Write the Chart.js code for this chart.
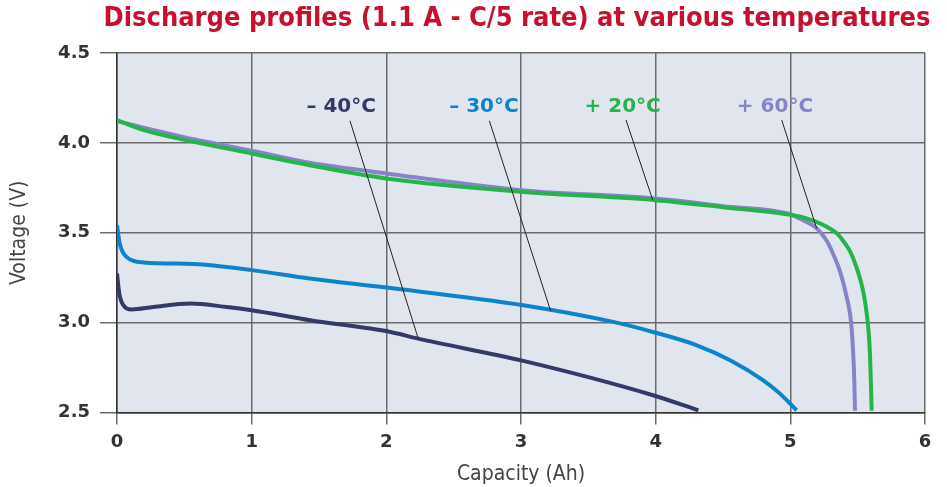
<!DOCTYPE html>
<html>
<head>
<meta charset="utf-8">
<script src="https://cdn.jsdelivr.net/npm/chart.js@4.4.1/dist/chart.umd.min.js"></script>
<style>
  html, body { margin: 0; padding: 0; background: #fff; }
  #wrap { width: 947px; height: 487px; }
</style>
</head>
<body>
<div id="wrap"><canvas id="chart" width="947" height="487"></canvas></div>
<script>
const title = "Discharge profiles (1.1 A - C/5 rate) at various temperatures"
const xTicks = [0, 1, 2, 3, 4, 5, 6]
const yTicks = [2.5, 3.0, 3.5, 4.0, 4.5]

// +20°C
const cap20 = [0, 0.2, 0.57, 1.0, 1.43, 2.0, 3.0, 4.0, 4.5, 5.0, 5.12, 5.27, 5.37, 5.49, 5.567, 5.591, 5.604]
const volt20 = [4.127, 4.071, 4.006, 3.941, 3.876, 3.802, 3.728, 3.681, 3.642, 3.6, 3.58, 3.533, 3.477, 3.31, 3.052, 2.83, 2.51]
// +60°C
const cap60 = [0, 0.57, 1.0, 1.43, 2.0, 3.0, 4.0, 4.5, 5.0, 5.094, 5.196, 5.294, 5.418, 5.456, 5.475, 5.48]
const volt60 = [4.12, 4.02, 3.956, 3.89, 3.83, 3.737, 3.69, 3.648, 3.603, 3.57, 3.524, 3.422, 3.143, 2.958, 2.68, 2.51]
// -30°C
const capM30 = [0, 0.02, 0.07, 0.2, 0.57, 1.0, 1.43, 2.0, 3.017, 3.685, 3.98, 4.305, 4.553, 4.799, 4.923, 5.047]
const voltM30 = [3.542, 3.44, 3.366, 3.335, 3.326, 3.292, 3.245, 3.195, 3.097, 3.004, 2.948, 2.874, 2.791, 2.679, 2.605, 2.512]
// -40°C
const capM40 = [0, 0.017, 0.047, 0.109, 0.27, 0.542, 0.815, 1.0, 1.433, 2.03, 2.237, 3.017, 3.98, 4.317]
const voltM40 = [3.273, 3.162, 3.097, 3.073, 3.087, 3.106, 3.087, 3.069, 3.013, 2.948, 2.911, 2.787, 2.596, 2.512]

// labels: text, label position, leader line start/end (data units)
const tempLabels = ["– 40°C", "– 30°C", "+ 20°C", "+ 60°C"]
const tempColors = ["#333a68", "#0b84cb", "#25b34b", "#8684c6"]
const labelX = [1.665, 2.725, 3.755, 4.886]
const labelY = [4.2, 4.2, 4.2, 4.2]
const leaderFrom = [[1.73, 4.123], [2.765, 4.123], [3.78, 4.127], [4.936, 4.127]]
const leaderTo = [[2.237, 2.911], [3.22, 3.065], [3.978, 3.682], [5.196, 3.524]]

const toPts = (xs, ys) => xs.map((x, i) => ({ x: x, y: ys[i] }))

const series = [
  { data: toPts(cap20, volt20), color: tempColors[2] },
  { data: toPts(cap60, volt60), color: tempColors[3] },
  { data: toPts(capM30, voltM30), color: tempColors[1] },
  { data: toPts(capM40, voltM40), color: tempColors[0] }
]

const bgPlugin = {
  id: "plotBg",
  beforeDraw(chart) {
    const { ctx, chartArea: a } = chart
    ctx.save()
    ctx.fillStyle = "#e1e6ee"
    ctx.fillRect(a.left, a.top, a.right - a.left, a.bottom - a.top)
    ctx.restore()
  }
}

const notesPlugin = {
  id: "notes",
  afterDatasetsDraw(chart) {
    const { ctx, scales: { x, y } } = chart
    ctx.save()
    ctx.strokeStyle = "#222"
    ctx.lineWidth = 1
    leaderFrom.forEach((f, i) => {
      const t = leaderTo[i]
      ctx.beginPath()
      ctx.moveTo(x.getPixelForValue(f[0]), y.getPixelForValue(f[1]))
      ctx.lineTo(x.getPixelForValue(t[0]), y.getPixelForValue(t[1]))
      ctx.stroke()
    })
    ctx.font = "bold 20px 'DejaVu Sans'"
    ctx.textAlign = "center"
    ctx.textBaseline = "middle"
    tempLabels.forEach((txt, i) => {
      ctx.fillStyle = tempColors[i]
      ctx.fillText(txt, x.getPixelForValue(labelX[i]), y.getPixelForValue(labelY[i]))
    })
    ctx.restore()
  },
  afterDraw(chart) {
    const { ctx } = chart
    ctx.save()
    ctx.font = "bold 27px 'DejaVu Sans Condensed', 'DejaVu Sans'"
    ctx.fillStyle = "#c8102e"
    ctx.textAlign = "center"
    ctx.textBaseline = "middle"
    ctx.fillText(title, 517, 19)
    ctx.restore()
  }
}

new Chart(document.getElementById("chart"), {
  type: "line",
  data: {
    datasets: series.map(s => ({
      data: s.data,
      borderColor: s.color,
      borderWidth: 4,
      pointRadius: 0,
      fill: false,
      cubicInterpolationMode: "monotone"
    }))
  },
  options: {
    responsive: false,
    animation: false,
    layout: { padding: { top: 53, right: 22, left: 0, bottom: 0 } },
    plugins: { legend: { display: false }, tooltip: { enabled: false } },
    scales: {
      x: {
        type: "linear",
        min: 0,
        max: 6,
        afterFit: s => { s.height = 74.5 },
        afterBuildTicks: s => { s.ticks = xTicks.map(v => ({ value: v })) },
        border: { color: "#333", width: 1.5 },
        grid: { color: "#6a6a6a", lineWidth: 1.5, tickLength: 12 },
        ticks: {
          color: "#333",
          padding: 7,
          font: { family: "'DejaVu Sans'", size: 18, weight: "bold" }
        },
        title: {
          display: true,
          text: "Capacity (Ah)",
          color: "#444",
          padding: 0,
          font: { family: "'Liberation Sans Narrow', 'DejaVu Sans Condensed'", size: 21 }
        }
      },
      y: {
        min: 2.5,
        max: 4.5,
        afterFit: s => { s.width = 117 },
        afterBuildTicks: s => { s.ticks = yTicks.map(v => ({ value: v })) },
        border: { color: "#333", width: 1.5 },
        grid: { color: "#6a6a6a", lineWidth: 1.5, tickLength: 17 },
        ticks: {
          color: "#333",
          padding: 10,
          font: { family: "'DejaVu Sans'", size: 18, weight: "bold" },
          callback: v => v.toFixed(1)
        },
        title: {
          display: true,
          text: "Voltage (V)",
          color: "#444",
          padding: { top: 7, bottom: 0 },
          font: { family: "'Liberation Sans Narrow', 'DejaVu Sans Condensed'", size: 21 }
        }
      }
    }
  },
  plugins: [bgPlugin, notesPlugin]
})
</script>
</body>
</html>
